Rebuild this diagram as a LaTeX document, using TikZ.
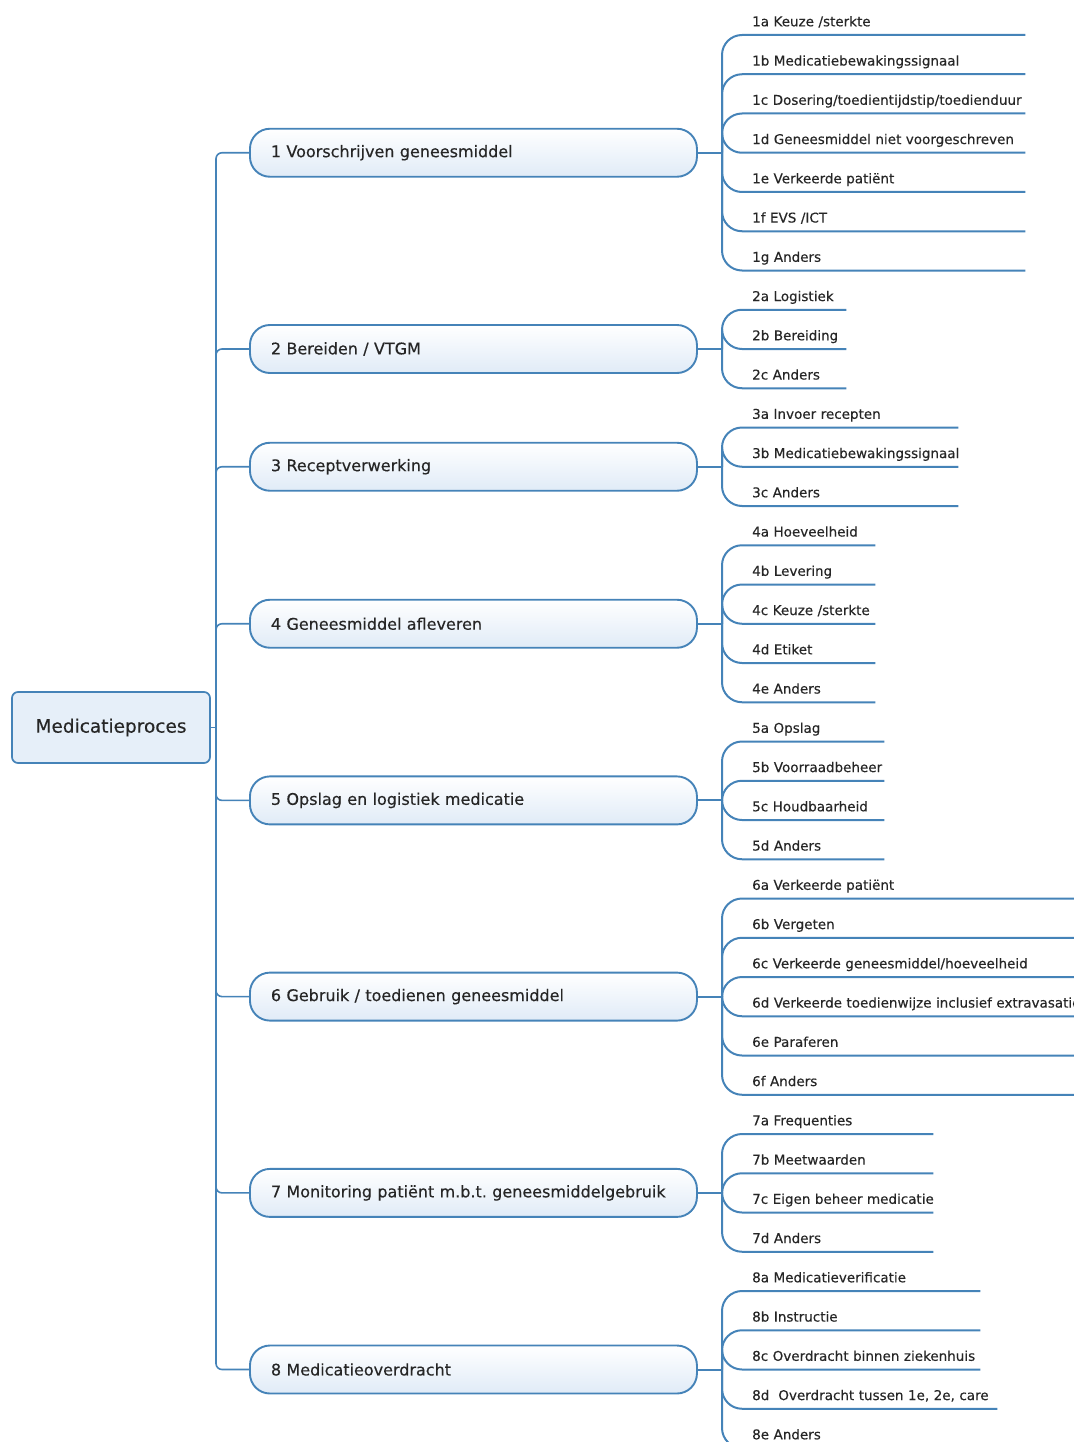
\documentclass[tikz,border=0pt]{standalone}
\usepackage{fontspec}
\setmainfont[FakeBold=0.35]{DejaVu Sans}
\usetikzlibrary{positioning}
\definecolor{mmblue}{HTML}{4583B8}
\definecolor{mmfill}{HTML}{E0EBF7}
\definecolor{mmtext}{HTML}{262626}
\frenchspacing

\begin{document}
\begin{tikzpicture}[x=1pt,y=-1pt,
  root/.style={draw=mmblue,line width=1.7pt,fill=mmfill!80,rounded corners=6pt,minimum width=198pt,minimum height=71pt,font=\fontsize{18.5}{22}\selectfont,text=mmtext},
  cat/.style={draw=mmblue,line width=1.9pt,top color=white,bottom color=mmfill,rounded corners=20pt,minimum height=48pt,text width=405pt,inner xsep=21pt,align=left,anchor=west,font=\fontsize{16}{19}\selectfont,text=mmtext},
  leaf/.style={anchor=south west,inner xsep=7pt,inner ysep=5pt,text depth=3.5pt,align=left,font=\fontsize{13.5}{16}\selectfont,text=mmtext},
  link/.style={draw=mmblue,line width=1.6pt,rounded corners=6pt},
  twig/.style={draw=mmblue,line width=2pt,rounded corners=20pt}]
\useasboundingbox (0,0) rectangle (1073,1442);

% root and main bus
\node[root] (root) at (111,727.5) {Medicatieproces};
\coordinate (hub) at (216,727.5);

% categories
\node[cat] (c1) at (249,152.75) {1 Voorschrijven geneesmiddel};
\node[cat] (c2) at (249,349) {2 Bereiden / VTGM};
\node[cat] (c3) at (249,466.75) {3 Receptverwerking};
\node[cat] (c4) at (249,623.75) {4 Geneesmiddel afleveren};
\node[cat] (c5) at (249,800.4) {5 Opslag en logistiek medicatie};
\node[cat] (c6) at (249,996.6) {6 Gebruik / toedienen geneesmiddel};
\node[cat] (c7) at (249,1192.9) {7 Monitoring patiënt m.b.t. geneesmiddelgebruik};
\node[cat] (c8) at (249,1369.5) {8 Medicatieoverdracht};

\draw[link] (root.east) -- (hub);
\foreach \c in {c1,c2,c3,c4,c5,c6,c7,c8}
  \draw[link] (hub) |- (\c.west);

% branch points
\coordinate (b1) at (722,152.75);
\coordinate (b2) at (722,349);
\coordinate (b3) at (722,466.75);
\coordinate (b4) at (722,623.75);
\coordinate (b5) at (722,800.4);
\coordinate (b6) at (722,996.6);
\coordinate (b7) at (722,1192.9);
\coordinate (b8) at (722,1369.5);
\foreach \n in {1,...,8}
  \draw[twig] (c\n.east) -- (b\n);

% leaves
\foreach \t [count=\i from 0] in {1a Keuze /sterkte,1b Medicatiebewakingssignaal,1c Dosering/toedientijdstip/toedienduur,1d Geneesmiddel niet voorgeschreven,1e Verkeerde patiënt,1f EVS /ICT,1g Anders}{
  \node[leaf,text width=266pt] (l1\i) at (745,{35+39.25*\i}) {\mbox{\t}};
  \draw[twig] (b1) |- (l1\i.south east);
}
\foreach \t [count=\i from 0] in {2a Logistiek,2b Bereiding,2c Anders}{
  \node[leaf,text width=87pt] (l2\i) at (745,{35+39.25*(7+\i)}) {\mbox{\t}};
  \draw[twig] (b2) |- (l2\i.south east);
}
\foreach \t [count=\i from 0] in {3a Invoer recepten,3b Medicatiebewakingssignaal,3c Anders}{
  \node[leaf,text width=199pt] (l3\i) at (745,{35+39.25*(10+\i)}) {\mbox{\t}};
  \draw[twig] (b3) |- (l3\i.south east);
}
\foreach \t [count=\i from 0] in {4a Hoeveelheid,4b Levering,4c Keuze /sterkte,4d Etiket,4e Anders}{
  \node[leaf,text width=116pt] (l4\i) at (745,{35+39.25*(13+\i)}) {\mbox{\t}};
  \draw[twig] (b4) |- (l4\i.south east);
}
\foreach \t [count=\i from 0] in {5a Opslag,5b Voorraadbeheer,5c Houdbaarheid,5d Anders}{
  \node[leaf,text width=125pt] (l5\i) at (745,{35+39.25*(18+\i)}) {\mbox{\t}};
  \draw[twig] (b5) |- (l5\i.south east);
}
\foreach \t [count=\i from 0] in {6a Verkeerde patiënt,6b Vergeten,6c Verkeerde geneesmiddel/hoeveelheid,6d Verkeerde toedienwijze inclusief extravasatie,6e Paraferen,6f Anders}{
  \node[leaf,text width=391pt] (l6\i) at (745,{35+39.25*(22+\i)}) {\mbox{\t}};
  \draw[twig] (b6) |- (l6\i.south east);
}
\foreach \t [count=\i from 0] in {7a Frequenties,7b Meetwaarden,7c Eigen beheer medicatie,7d Anders}{
  \node[leaf,text width=174pt] (l7\i) at (745,{35+39.25*(28+\i)}) {\mbox{\t}};
  \draw[twig] (b7) |- (l7\i.south east);
}
\foreach \t [count=\i from 0] in {8a Medicatieverificatie,8b Instructie,8c Overdracht binnen ziekenhuis,{8d\ \ Overdracht tussen 1e, 2e, care},8e Anders}{
  \pgfmathsetmacro\w{\i==3 ? 238 : 221}
  \node[leaf,text width=\w pt] (l8\i) at (745,{35+39.25*(32+\i)}) {\mbox{\t}};
  \draw[twig] (b8) |- (l8\i.south east);
}
\end{tikzpicture}
\end{document}
